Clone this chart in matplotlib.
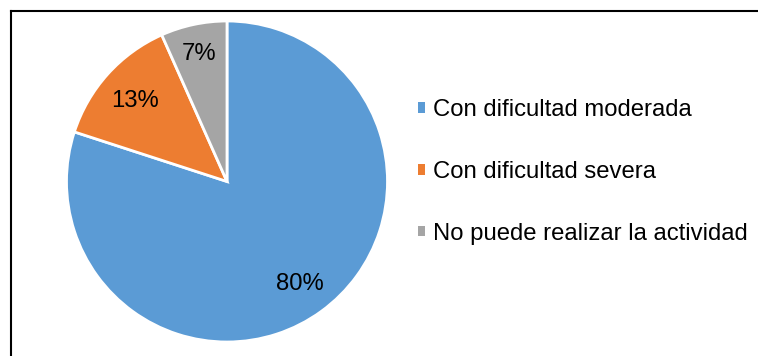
import matplotlib
matplotlib.use("Agg")
import numpy as np
import matplotlib.pyplot as plt
from matplotlib.lines import Line2D
from matplotlib.patches import Patch

# Respuestas por categoría (número de personas)
categories = ["Con dificultad moderada", "Con dificultad severa",
              "No puede realizar la actividad"]
counts = [12, 2, 1]
colors = ["#5B9BD5", "#ED7D31", "#A5A5A5"]
# Distancia radial de cada etiqueta de porcentaje (fracción del radio)
label_dist = [0.77, 0.775, 0.83]

W, H = 758, 356
FS = 17.2
plt.rcParams["font.family"] = ["Liberation Sans", "DejaVu Sans"]

fig = plt.figure(figsize=(W / 100, H / 100), dpi=100)
ax = fig.add_axes([0, 0, 1, 1])

cx, cy, R = 227, H - 181.5, 160.5
wedges, texts, autotexts = ax.pie(
    counts, colors=colors, startangle=90, counterclock=False,
    center=(cx, cy), radius=R,
    autopct="%.0f%%", pctdistance=0.78,
    wedgeprops=dict(edgecolor="white", linewidth=2),
    textprops=dict(fontsize=FS, color="black"),
)
for w, t, d in zip(wedges, autotexts, label_dist):
    ang = np.deg2rad((w.theta1 + w.theta2) / 2)
    t.set_position((cx + d * R * np.cos(ang), cy + d * R * np.sin(ang)))
    t.set_verticalalignment("center_baseline")

ax.set_xlim(0, W)
ax.set_ylim(0, H)
ax.set_aspect("equal")
ax.axis("off")

# Marco del gráfico (borde superior e izquierdo)
fig.add_artist(Line2D([10.5 / W, 757 / W], [(H - 10.5) / H] * 2,
                      transform=fig.transFigure, color="black", lw=1.5))
fig.add_artist(Line2D([10.5 / W] * 2, [(H - 10.5) / H, 0],
                      transform=fig.transFigure, color="black", lw=1.5))

handles = [Patch(facecolor=c, edgecolor="none") for c in colors]
ax.legend(handles, categories, loc="center left",
          bbox_to_anchor=(418 / W, (H - 172) / H), bbox_transform=fig.transFigure,
          frameon=False, fontsize=FS, borderpad=0, borderaxespad=0,
          handlelength=0.3, handleheight=0.3, handletextpad=0.33,
          labelspacing=1.66)

fig.savefig("out.png", dpi=100)
